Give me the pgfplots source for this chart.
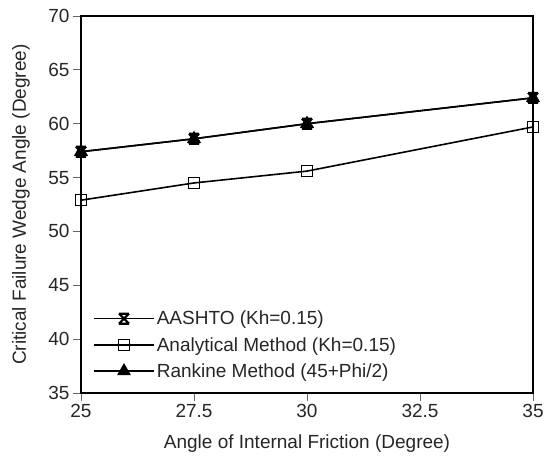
\documentclass[border=0pt]{standalone}
\usepackage{fontspec}
\setmainfont{Liberation Sans}
\usepackage{pgfplots}
\pgfplotsset{compat=1.18}

\pgfdeclareplotmark{xbar}{%
  \pgfpathmoveto{\pgfqpoint{-\pgfplotmarksize}{\pgfplotmarksize}}
  \pgfpathlineto{\pgfqpoint{\pgfplotmarksize}{-\pgfplotmarksize}}
  \pgfpathmoveto{\pgfqpoint{-\pgfplotmarksize}{-\pgfplotmarksize}}
  \pgfpathlineto{\pgfqpoint{\pgfplotmarksize}{\pgfplotmarksize}}
  \pgfpathmoveto{\pgfqpoint{-\pgfplotmarksize}{\pgfplotmarksize}}
  \pgfpathlineto{\pgfqpoint{\pgfplotmarksize}{\pgfplotmarksize}}
  \pgfpathmoveto{\pgfqpoint{-\pgfplotmarksize}{-\pgfplotmarksize}}
  \pgfpathlineto{\pgfqpoint{\pgfplotmarksize}{-\pgfplotmarksize}}
  \pgfusepathqstroke}

\begin{document}
\begin{tikzpicture}
\begin{axis}[
  scale only axis,
  width=452bp, height=377bp,
  xmin=25, xmax=35, ymin=35, ymax=70,
  xtick={25,27.5,30,32.5,35},
  ytick={35,40,...,70},
  xticklabels={25,27.5,30,32.5,35},
  tick align=outside,
  xtick pos=left, ytick pos=left,
  major tick length=8bp,
  axis line style={line width=1.4pt},
  tick style={black!60, line width=0.8pt},
  /pgf/number format/assume math mode=true,
  tick label style={font=\fontsize{19bp}{22bp}\selectfont, text=black!85},
  label style={font=\fontsize{19bp}{22bp}\selectfont, text=black!85},
  xlabel={Angle of Internal Friction (Degree)},
  ylabel={Critical Failure Wedge Angle (Degree)},
  xlabel style={at={(axis description cs:0.5,0)}, anchor=center, yshift=-51bp},
  ylabel style={at={(axis description cs:0,0.5)}, anchor=center, yshift=60bp},
  legend style={draw=none, fill=none, at={(axis description cs:0,0)}, anchor=south west,
    xshift=12bp, yshift=12bp,
    font=\fontsize{19bp}{22bp}\selectfont, row sep=7bp, inner sep=0pt, text=black!85},
  legend cell align=left,
  legend image code/.code={%
    \draw[mark repeat=2,mark phase=2,#1] plot coordinates {(0bp,0bp) (30bp,0bp) (60bp,0bp)};},
]
\addplot[black, line width=1.6pt, mark=xbar, mark size=5bp, mark options={line width=2.2pt}]
  coordinates {(25,57.4) (27.5,58.6) (30,60.0) (35,62.4)};
\addlegendentry{AASHTO (Kh=0.15)}
\addplot[black, line width=1.6pt, mark=square, mark size=5.5bp, mark options={fill=white, line width=1.4pt}]
  coordinates {(25,52.9) (27.5,54.5) (30,55.6) (35,59.7)};
\addlegendentry{Analytical Method (Kh=0.15)}
\addplot[black, line width=1.6pt, mark=triangle*, mark size=6.5bp, mark options={fill=black}]
  coordinates {(25,57.4) (27.5,58.6) (30,60.0) (35,62.4)};
\addlegendentry{Rankine Method (45+Phi/2)}
\end{axis}
\pgfresetboundingbox
\path ([xshift=-81bp,yshift=-63bp]current axis.south west) rectangle ([xshift=11bp,yshift=16bp]current axis.north east);
\end{tikzpicture}
\end{document}
